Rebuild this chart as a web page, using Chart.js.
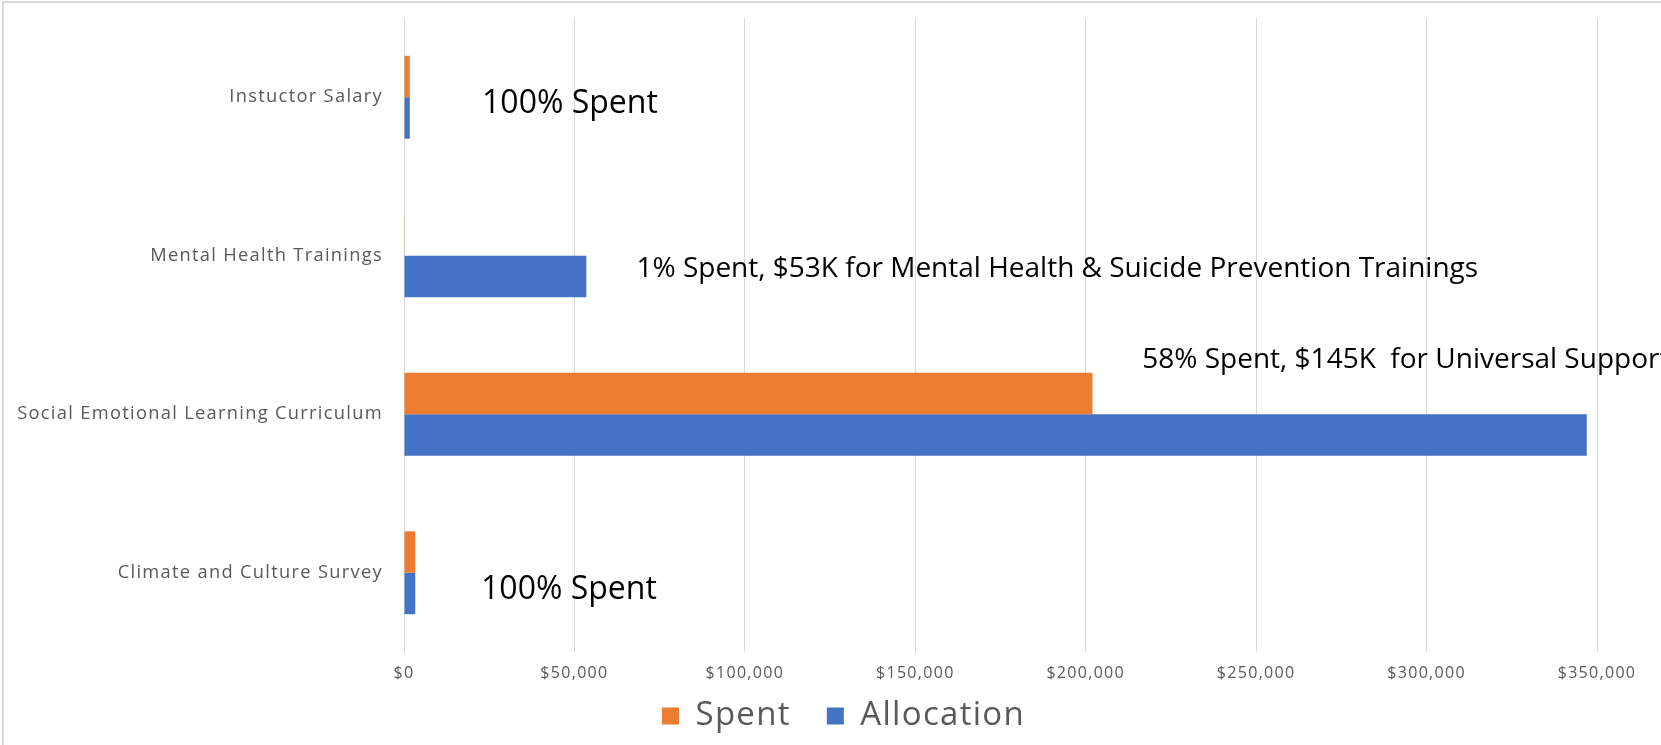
<!DOCTYPE html>
<html lang="en">
<head>
<meta charset="UTF-8">
<title>Spent vs Allocation</title>
<script src="https://cdn.jsdelivr.net/npm/chart.js@4.4.1/dist/chart.umd.min.js"></script>
<style>
  html, body { margin: 0; padding: 0; background: #fff; }
  #wrap { position: relative; width: 1661px; height: 745px; }
</style>
</head>
<body>
<div id="wrap"><canvas id="grafico"></canvas></div>
<script>
// Values
const categories = [
    'Instuctor Salary',
    'Mental Health Trainings',
    'Social Emotional Learning Curriculum',
    'Climate and Culture Survey'
];
const spent = [1700, 200, 202000, 3300];
const allocation = [1700, 53500, 347000, 3300];
const xTicks = [0, 50000, 100000, 150000, 200000, 250000, 300000, 350000];
const noteTexts = [
    '100% Spent',
    '1% Spent, $53K for Mental Health & Suicide Prevention Trainings',
    '58% Spent, $145K  for Universal Support',
    '100% Spent'
];

document.addEventListener('DOMContentLoaded', () => {
    const SPACING = '1.3px'; // Excel text looks a bit spread out

    const formatDollar = (v) => '$' + v.toLocaleString('en-US');

    // frame lines, letter spacing, and legend nudged under the axis labels
    const framePlugin = {
        id: 'frame',
        beforeUpdate(chart) { chart.ctx.letterSpacing = SPACING; },
        afterLayout(chart) {
            const lg = chart.legend;
            if (!lg) return;
            lg.top = chart.chartArea.bottom + 11.5;
            lg.bottom = chart.height;
            lg.height = lg.bottom - lg.top;
            lg.left += 13;
            lg.right += 13;
        },
        beforeDraw(chart) {
            const ctx = chart.ctx;
            ctx.letterSpacing = SPACING;
            ctx.save();
            ctx.strokeStyle = '#d9d9d9';
            ctx.lineWidth = 2;
            ctx.beginPath();
            ctx.moveTo(3, chart.height);
            ctx.lineTo(3, 2);
            ctx.lineTo(chart.width, 2);
            ctx.stroke();
            ctx.restore();
        }
    };

    // the free text boxes placed over the plot
    const notesPlugin = {
        id: 'notes',
        afterDatasetsDraw(chart, args, opts) {
            const { ctx, scales: { x, y } } = chart;
            ctx.save();
            ctx.letterSpacing = '0px';
            ctx.fillStyle = '#000';
            ctx.textAlign = 'left';
            ctx.textBaseline = 'middle';
            opts.items.forEach((item, i) => {
                ctx.font = item.size + 'px "Open Sans"';
                ctx.fillText(noteTexts[i], x.getPixelForValue(item.x), y.getPixelForValue(item.cat));
            });
            ctx.restore();
        }
    };

    new Chart(document.getElementById('grafico'), {
        type: 'bar',
        data: {
            labels: categories,
            datasets: [
                { label: 'Spent', data: spent, backgroundColor: '#ED7D31', borderWidth: 0 },
                { label: 'Allocation', data: allocation, backgroundColor: '#4472C4', borderWidth: 0 }
            ]
        },
        options: {
            indexAxis: 'y',
            responsive: true,
            maintainAspectRatio: false,
            animation: false,
            datasets: { bar: { categoryPercentage: 0.523, barPercentage: 1.0 } },
            layout: { padding: { top: 18, left: 0, right: 0, bottom: 0 } },
            scales: {
                x: {
                    min: 0,
                    max: 350000,
                    afterBuildTicks: (s) => { s.ticks = xTicks.map(v => ({ value: v })); },
                    afterFit: (s) => { s.height = 34; },
                    grid: { color: '#d9d9d9', lineWidth: 1, drawTicks: false },
                    border: { display: false },
                    ticks: {
                        padding: 12,
                        color: '#595959',
                        font: { family: 'Open Sans', size: 16 },
                        callback: (v) => formatDollar(v)
                    }
                },
                y: {
                    afterFit: (s) => {
                        s.width = 404;
                        s.paddingTop = 0;
                        s.paddingBottom = 0;
                    },
                    grid: { display: false, drawTicks: false },
                    border: { display: false },
                    ticks: {
                        padding: 21,
                        color: '#595959',
                        font: { family: 'Open Sans', size: 18.3 }
                    }
                },
                // empty axis on the right, only to reserve space like the original plot area
                yRight: {
                    type: 'category',
                    position: 'right',
                    afterFit: (s) => {
                        s.width = 64;
                        s.paddingTop = 0;
                        s.paddingBottom = 0;
                    },
                    grid: { display: false, drawTicks: false },
                    border: { display: false },
                    ticks: { display: false }
                }
            },
            plugins: {
                legend: {
                    position: 'bottom',
                    maxHeight: 59,
                    labels: {
                        color: '#595959',
                        font: { family: 'Open Sans', size: 33 },
                        boxWidth: 17,
                        boxHeight: 17,
                        padding: 36
                    }
                },
                tooltip: { enabled: false },
                notes: {
                    items: [
                        { cat: 0.04, x: 22900, size: 32 },
                        { cat: 1.083, x: 68200, size: 28 },
                        { cat: 1.66, x: 216600, size: 28 },
                        { cat: 3.109, x: 22600, size: 32 }
                    ]
                }
            }
        },
        plugins: [framePlugin, notesPlugin]
    });
});
</script>
</body>
</html>
